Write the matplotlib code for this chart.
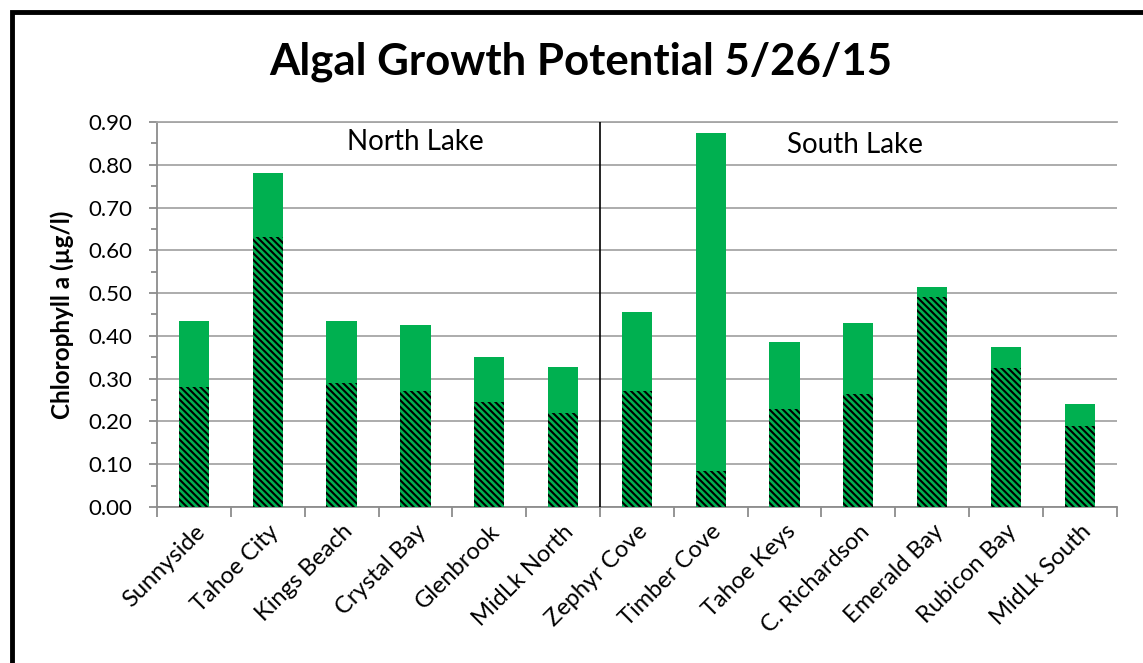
import numpy as np
import matplotlib.pyplot as plt
from matplotlib.patches import Rectangle

# --- Data: chlorophyll a (ug/l) by site ---
sites = ["Sunnyside", "Tahoe City", "Kings Beach", "Crystal Bay", "Glenbrook",
         "MidLk North", "Zephyr Cove", "Timber Cove", "Tahoe Keys", "C. Richardson",
         "Emerald Bay", "Rubicon Bay", "MidLk South"]
control = [0.28, 0.63, 0.29, 0.27, 0.245, 0.22, 0.27, 0.085, 0.23, 0.265, 0.49, 0.325, 0.19]
total = [0.435, 0.78, 0.435, 0.425, 0.35, 0.328, 0.455, 0.875, 0.385, 0.43, 0.515, 0.375, 0.24]
yticks = np.arange(0, 0.91, 0.1)

green = "#00B050"
grey = "#8c8c8c"

plt.rcParams["font.family"] = ["Lato", "DejaVu Sans"]
plt.rcParams["hatch.linewidth"] = 1.5

fig = plt.figure(figsize=(11.43, 6.63), dpi=100)
ax = fig.add_axes([0.1374, 0.2353, 0.8396, 0.5807])

x = np.arange(len(sites))
width = 0.41
ax.bar(x, total, width, color=green, linewidth=0, zorder=2)
ax.bar(x, control, width, facecolor=green, edgecolor="black", hatch="\\\\\\\\\\",
       linewidth=0, zorder=3)

# divider between north and south sites
ax.plot([5.5, 5.5], [0, 0.9], color="black", lw=1.2, zorder=4)
ax.text(3.0, 0.853, "North Lake", ha="center", va="center", fontsize=20)
ax.text(8.95, 0.846, "South Lake", ha="center", va="center", fontsize=20)

ax.set_xlim(-0.5, len(sites) - 0.5)
ax.set_ylim(0, 0.9)
ax.set_yticks(yticks)
ax.set_yticklabels([f"{v:.2f}" for v in yticks], fontsize=16)
ax.set_yticks(np.arange(0.05, 0.9, 0.1), minor=True)
ax.yaxis.grid(True, which="major", color="#a6a6a6", lw=1.3, zorder=0)
ax.set_axisbelow(True)

# category boundaries carry the ticks, labels sit at the centres
ax.set_xticks(np.arange(-0.5, len(sites), 1))
ax.set_xticklabels([])
ax.set_xticks(x, minor=True)
ax.set_xticklabels(sites, minor=True, rotation=45, ha="right", rotation_mode="anchor",
                   fontsize=17)
ax.tick_params(axis="x", which="minor", length=0, pad=10)
ax.tick_params(axis="x", which="major", length=7, width=1.3, color=grey)
ax.tick_params(axis="y", which="major", length=6, width=1.3, color=grey, pad=12)
ax.tick_params(axis="y", which="minor", length=4, width=1.3, color=grey)

ax.spines["right"].set_visible(False)
ax.spines["top"].set_color("#a6a6a6")
ax.spines["top"].set_linewidth(1.3)
for side in ["left", "bottom"]:
    ax.spines[side].set_color(grey)
    ax.spines[side].set_linewidth(1.3)

ax.set_ylabel("Chlorophyll a (µg/l)", fontsize=17.5, fontweight="bold", labelpad=10)
fig.suptitle("Algal Growth Potential 5/26/15", fontsize=31.5, fontweight="bold",
             x=0.508, y=0.937)

# outer frame
fig.patches.append(Rectangle((12 / 1143, -0.1), 1.2, 1.1 - 12 / 663, transform=fig.transFigure,
                             fill=False, edgecolor="black", lw=3.5))

fig.savefig("out.png", dpi=100)
